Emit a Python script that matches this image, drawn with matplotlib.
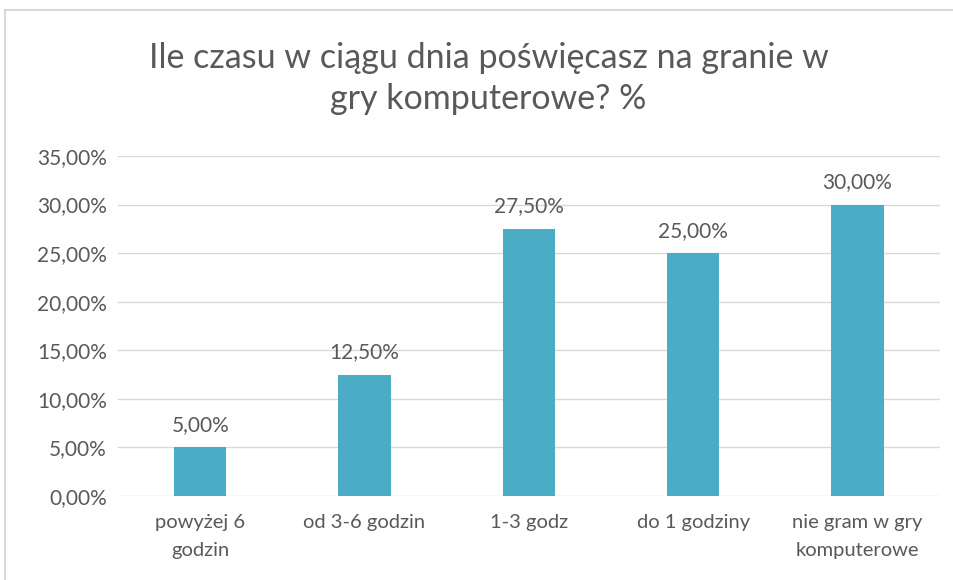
import matplotlib
matplotlib.use('Agg')
import matplotlib.pyplot as plt
from matplotlib.patches import Rectangle

# chart data
categories = ['powyżej 6\ngodzin', 'od 3-6 godzin', '1-3 godz', 'do 1 godziny',
              'nie gram w gry\nkomputerowe']
values = [5.0, 12.5, 27.5, 25.0, 30.0]
yticks = [0, 5, 10, 15, 20, 25, 30, 35]
title = 'Ile czasu w ciągu dnia poświęcasz na granie w\ngry komputerowe? %'

BAR = '#4BACC6'
TXT = '#595959'
GRID = '#D9D9D9'

plt.rcParams['font.family'] = ['Lato', 'DejaVu Sans']


def pct(v):
    return f'{v:.2f}'.replace('.', ',') + '%'


fig = plt.figure(figsize=(9.54, 5.8), dpi=100)
ax = fig.add_axes([0.1237, 0.1448, 0.8613, 0.5862])

x = list(range(len(categories)))
ax.bar(x, values, width=0.32, color=BAR, zorder=3)
for xi, v in zip(x, values):
    ax.annotate(pct(v), (xi, v), xytext=(0, 9), textcoords='offset points',
                ha='center', va='bottom', fontsize=15, color=TXT)

ax.set_xlim(-0.5, len(categories) - 0.5)
ax.set_ylim(0, 35)
ax.set_yticks(yticks)
ax.set_yticklabels([pct(t) for t in yticks], fontsize=15, color=TXT)
ax.set_xticks(x)
ax.set_xticklabels(categories, fontsize=14.5, color=TXT, linespacing=1.75)
ax.tick_params(axis='both', length=0)
ax.tick_params(axis='y', pad=8)
ax.tick_params(axis='x', pad=13)
ax.grid(axis='y', color=GRID, linewidth=1, zorder=0)
for s in ax.spines.values():
    s.set_visible(False)

fig.text(0.512, 0.864, title, ha='center', va='center', fontsize=24.5,
         color=TXT, linespacing=1.35)

# chart frame
fig.patches.append(Rectangle((5 / 954, -0.1), 1.1, 1.1 - 10 / 580,
                             transform=fig.transFigure, fill=False,
                             edgecolor=GRID, linewidth=1.5))

fig.savefig('out.png', dpi=100, facecolor='white')
